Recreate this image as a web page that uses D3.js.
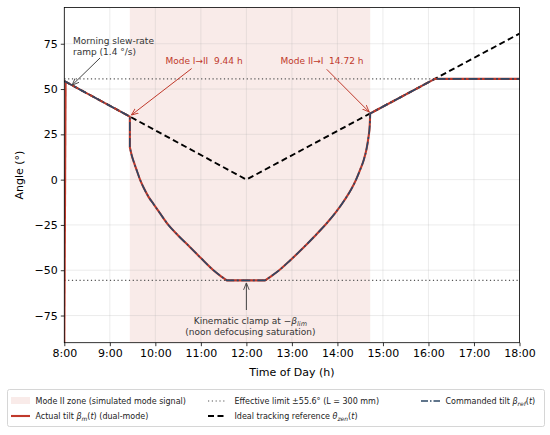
<!DOCTYPE html>
<html><head><meta charset="utf-8">
<script src="https://cdn.jsdelivr.net/npm/d3@7"></script>
<style>body{margin:0;background:#fff}svg{display:block;font-family:"DejaVu Sans",sans-serif}text{white-space:pre}</style>
</head><body><svg id="c" width="550" height="435"></svg>
<script>
const hourTicks = [8,9,10,11,12,13,14,15,16,17,18];
const hourLabels = ["8:00","9:00","10:00","11:00","12:00","13:00","14:00","15:00","16:00","17:00","18:00"];
const angleTicks = [-75,-50,-25,0,25,50,75];
const modeIIZone = [9.44, 14.72];
const betaLim = 55.6;
const zenTime = [8, 12, 18];
const zenAngle = [54.4, 0, 80.6];
const cmdTime = [8.0, 9.44, 9.44, 9.48, 9.53, 9.60, 9.664, 9.75, 9.85, 9.956, 10.1, 10.286, 10.5, 10.763, 11.0, 11.275, 11.45, 11.57,
  12.41, 12.55, 12.72, 12.96, 13.25, 13.5, 13.75, 13.95, 14.15, 14.30, 14.41, 14.50, 14.58, 14.64, 14.68, 14.71, 14.72, 16.14, 18.0];
const cmdAngle = [54.4, 34.8, 17.9, 13.5, 9.5, 4.5, 0, -4.8, -9.5, -13.3, -18.5, -25, -30.8, -37.3, -43.3, -50, -53.5, -55.6,
  -55.6, -53.2, -50, -44.6, -37.6, -31.2, -24.5, -18.5, -11.5, -5.5, 0, 5.5, 11, 17, 23, 30, 36.5, 55.6, 55.6];
const pieceBreaks = [1, 2, 17, 18, 34, 35];
const rampTime = [8.0, 8.029];
const rampAngle = [-90, 54.0];

const svg = d3.select("#c");
const L = 64.3, R = 519.5, T = 7.5, B = 342.7;
const x = d3.scaleLinear().domain([8, 18]).range([L, R]);
const y = d3.scaleLinear().domain([-90, 95]).range([B, T]);
const red = "#c0392b", navy = "#2c4866";

const defs = svg.append("defs");
defs.append("clipPath").attr("id","clip").append("rect").attr("x",L).attr("y",T).attr("width",R-L).attr("height",B-T);
function marker(id, col){
  defs.append("marker").attr("id",id).attr("viewBox","0 0 10 10").attr("refX",10).attr("refY",5)
   .attr("markerWidth",7).attr("markerHeight",7).attr("markerUnits","userSpaceOnUse").attr("orient","auto")
   .append("path").attr("d","M0,1 L10,5 L0,9").attr("fill","none").attr("stroke",col).attr("stroke-width",1.3);
}
marker("arRed", red); marker("arGray", "#444");

const g = svg.append("g");
g.append("rect").attr("x", x(modeIIZone[0])).attr("y", T).attr("width", x(modeIIZone[1]) - x(modeIIZone[0])).attr("height", B - T)
  .attr("fill", red).attr("fill-opacity", 0.1);
g.selectAll(".gx").data(hourTicks).join("line").attr("x1", d=>x(d)).attr("x2", d=>x(d)).attr("y1", T).attr("y2", B)
  .attr("stroke", "#b0b0b0").attr("stroke-opacity", 0.3).attr("stroke-width", 0.8);
g.selectAll(".gy").data(angleTicks).join("line").attr("y1", d=>y(d)).attr("y2", d=>y(d)).attr("x1", L).attr("x2", R)
  .attr("stroke", "#b0b0b0").attr("stroke-opacity", 0.3).attr("stroke-width", 0.8);

const plot = g.append("g").attr("clip-path","url(#clip)");
[betaLim, -betaLim].forEach(v => plot.append("line").attr("x1", L).attr("x2", R).attr("y1", y(v)).attr("y2", y(v))
  .attr("stroke", "#555").attr("stroke-width", 1.1).attr("stroke-dasharray", "1.2,2.6"));
const line = d3.line().x(d=>x(d[0])).y(d=>y(d[1]));
const smooth = d3.line().x(d=>x(d[0])).y(d=>y(d[1])).curve(d3.curveMonotoneX);
plot.append("path").attr("d", line(zenTime.map((t,i)=>[t, zenAngle[i]]))).attr("fill","none")
  .attr("stroke","#000").attr("stroke-width",1.9).attr("stroke-dasharray","6,3.5");

const cmdPts = cmdTime.map((t,i)=>[t, cmdAngle[i]]);
function piecewise(pts){
  const cuts = [0, ...pieceBreaks, pts.length-1];
  let d = "";
  for (let k = 0; k < cuts.length-1; k++){
    const seg = pts.slice(cuts[k], cuts[k+1]+1);
    let s = (seg[0][0] === seg[seg.length-1][0] || seg.length < 3) ? line(seg) : smooth(seg);
    if (k > 0) s = "L" + s.slice(1);
    d += s;
  }
  return d;
}
const cmdPath = piecewise(cmdPts);
const rampPath = line(rampTime.map((t,i)=>[t, rampAngle[i]])) + "L" + x(cmdTime[0]+0.029*0) + "," + y(cmdAngle[0]);
plot.append("path").attr("d", line(rampTime.map((t,i)=>[t, rampAngle[i]]))).attr("fill","none").attr("stroke", red).attr("stroke-width", 2.1);
plot.append("path").attr("d", cmdPath).attr("fill","none").attr("stroke", red).attr("stroke-width", 2.1).attr("stroke-linejoin","round");
plot.append("path").attr("d", cmdPath).attr("fill","none").attr("stroke", navy)
  .attr("stroke-width", 1.6).attr("stroke-dasharray","9,2.5,2,2.5").attr("stroke-linejoin","round");

const xa = g.append("g").attr("transform", `translate(0,${B})`)
  .call(d3.axisBottom(x).tickValues(hourTicks).tickFormat((d,i)=>hourLabels[i]).tickSize(3.5).tickPadding(3));
const ya = g.append("g").attr("transform", `translate(${L},0)`)
  .call(d3.axisLeft(y).tickValues(angleTicks).tickSize(3.5).tickPadding(3).tickFormat(d=> d<0 ? "\u2212"+Math.abs(d) : d));
[xa, ya].forEach(a => { a.select(".domain").remove(); a.selectAll("text").attr("font-size", 11).attr("fill","#000").attr("font-family","DejaVu Sans"); a.selectAll("line").attr("stroke","#000").attr("stroke-width",0.8); });
g.append("rect").attr("x", L).attr("y", T).attr("width", R-L).attr("height", B-T).attr("fill","none").attr("stroke","#000").attr("stroke-width",0.8);

svg.append("text").attr("x", (L+R)/2).attr("y", 376).attr("text-anchor","middle").attr("font-size", 11).text("Time of Day (h)");
svg.append("text").attr("transform", `translate(23,${(T+B)/2}) rotate(-90)`).attr("text-anchor","middle").attr("font-size", 11).text("Angle (°)");

function arrow(x1,y1,x2,y2,col,m){ svg.append("line").attr("x1",x1).attr("y1",y1).attr("x2",x2).attr("y2",y2).attr("stroke",col).attr("stroke-width",1).attr("marker-end",`url(#${m})`); }
const ann = svg.append("g").attr("font-size", 9);
ann.append("text").attr("x", 73).attr("y", 44).attr("fill","#333").text("Morning slew-rate");
ann.append("text").attr("x", 73).attr("y", 55).attr("fill","#333").text("ramp (1.4 °/s)");
arrow(100, 58, x(8.17), y(52.1), "#444", "arGray");
ann.append("text").attr("x", 204).attr("y", 64).attr("text-anchor","middle").attr("fill", red).text("Mode I\u2192II  9.44 h");
arrow(191.7, 68.5, x(9.44)+1.5, y(34.8)-1.5, red, "arRed");
ann.append("text").attr("x", 322).attr("y", 64).attr("text-anchor","middle").attr("fill", red).text("Mode II\u2192I  14.72 h");
arrow(326.7, 69.3, x(14.72)-1, y(36.5)-1.5, red, "arRed");
const k1 = ann.append("text").attr("x", x(12)+4).attr("y", 324).attr("text-anchor","middle").attr("fill","#333");
k1.append("tspan").text("Kinematic clamp at \u2212");
k1.append("tspan").attr("font-style","italic").text("β");
k1.append("tspan").attr("font-size",6.5).attr("font-style","italic").attr("dy",2).text("lim");
ann.append("text").attr("x", x(12)+4).attr("y", 335).attr("text-anchor","middle").attr("fill","#333").text("(noon defocusing saturation)");
arrow(x(12), 310, x(12), y(-betaLim)+2.5, "#444", "arGray");

const lg = svg.append("g").attr("font-size", 8).attr("fill","#222");
lg.append("rect").attr("x", 7.5).attr("y", 389.5).attr("width", 537).attr("height", 37).attr("rx", 2).attr("fill","#fff").attr("stroke","#ccc").attr("stroke-width",0.8);
const r1 = 401, r2 = 416;
lg.append("rect").attr("x", 11).attr("y", r1-4).attr("width", 19).attr("height", 7).attr("fill", red).attr("fill-opacity",0.1);
lg.append("text").attr("x", 35.5).attr("y", r1+3).text("Mode II zone (simulated mode signal)");
lg.append("line").attr("x1", 208).attr("x2", 227).attr("y1", r1).attr("y2", r1).attr("stroke","#555").attr("stroke-width",1.1).attr("stroke-dasharray","1.2,2.6");
lg.append("text").attr("x", 234.5).attr("y", r1+3).text("Effective limit ±55.6° (L = 300 mm)");
lg.append("line").attr("x1", 421).attr("x2", 440).attr("y1", r1).attr("y2", r1).attr("stroke",navy).attr("stroke-width",1.6).attr("stroke-dasharray","7,2,1.5,2");
const t3 = lg.append("text").attr("x", 445.5).attr("y", r1+3);
t3.append("tspan").text("Commanded tilt ");
t3.append("tspan").attr("font-style","italic").text("β");
t3.append("tspan").attr("font-style","italic").attr("font-size",6).attr("dy",1.5).text("ref");
t3.append("tspan").attr("dy",-1.5).text("(");
t3.append("tspan").attr("font-style","italic").text("t");
t3.append("tspan").text(")");
lg.append("line").attr("x1", 11).attr("x2", 30).attr("y1", r2).attr("y2", r2).attr("stroke",red).attr("stroke-width",2.1);
const t4 = lg.append("text").attr("x", 35.5).attr("y", r2+3);
t4.append("tspan").text("Actual tilt ");
t4.append("tspan").attr("font-style","italic").text("β");
t4.append("tspan").attr("font-style","italic").attr("font-size",6).attr("dy",1.5).text("m");
t4.append("tspan").attr("dy",-1.5).text("(");
t4.append("tspan").attr("font-style","italic").text("t");
t4.append("tspan").text(") (dual-mode)");
lg.append("line").attr("x1", 208).attr("x2", 227).attr("y1", r2).attr("y2", r2).attr("stroke","#000").attr("stroke-width",1.9).attr("stroke-dasharray","6,3.5");
const t5 = lg.append("text").attr("x", 234.5).attr("y", r2+3);
t5.append("tspan").text("Ideal tracking reference ");
t5.append("tspan").attr("font-style","italic").text("θ");
t5.append("tspan").attr("font-style","italic").attr("font-size",6).attr("dy",1.5).text("zen");
t5.append("tspan").attr("dy",-1.5).text("(");
t5.append("tspan").attr("font-style","italic").text("t");
t5.append("tspan").text(")");
</script></body></html>
